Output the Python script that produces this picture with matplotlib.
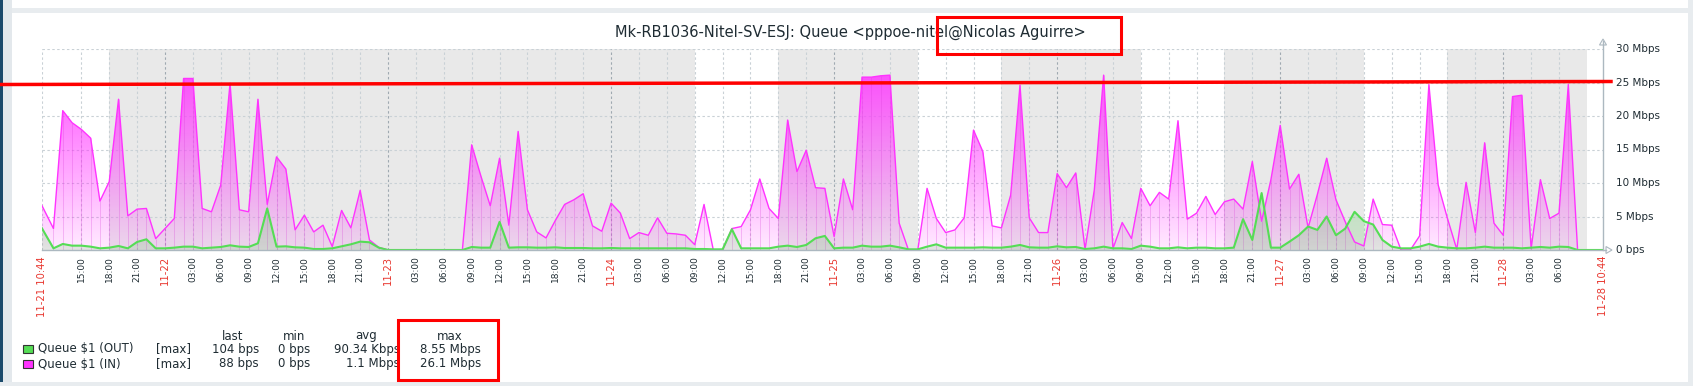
#!/usr/bin/env python3
"""Zabbix-style queue graph: IN/OUT traffic for one pppoe client over a week."""

import matplotlib

matplotlib.use("Agg")
import matplotlib.pyplot as plt
import numpy as np
import pandas as pd
from matplotlib.lines import Line2D
from matplotlib.patches import Polygon, Rectangle
from matplotlib.transforms import blended_transform_factory

W, H, DPI = 1693, 386, 100

TITLE = "Mk-RB1036-Nitel-SV-ESJ: Queue <pppoe-nitel@Nicolas Aguirre>"
START = pd.Timestamp("2025-11-21 10:44")
END = pd.Timestamp("2025-11-28 10:44")
FIRST_HOUR = pd.Timestamp("2025-11-21 12:00")

# value at the left edge of the graph (Mbps)
in_edge = 6.7
out_edge = 3.3

# hourly values from 11-21 12:00 to 11-28 10:00 (Mbps)
in_mbps = [
    3.2, 20.8, 19.0, 18.0, 16.7, 7.3, 10.2, 22.5, 5.1, 6.1, 6.2, 1.7,
    3.2, 4.7, 25.6, 25.6, 6.2, 5.7, 9.7, 24.9, 6.0, 5.7, 22.5, 6.8,
    13.9, 12.1, 3.0, 5.2, 2.7, 3.7, 0.5, 5.9, 3.3, 8.9, 1.5, 0.4,
    0, 0, 0, 0, 0, 0, 0, 0, 0, 15.7, 11.0, 6.6,
    13.7, 3.7, 17.7, 6.0, 2.7, 1.8, 4.4, 6.8, 7.5, 8.4, 3.6, 2.8,
    7.0, 5.5, 1.7, 2.6, 2.2, 4.8, 2.5, 2.4, 2.2, 0.8, 6.8, 0,
    0, 3.2, 3.5, 6.0, 10.6, 6.2, 4.7, 19.4, 11.7, 14.9, 9.3, 9.2,
    2.0, 10.6, 6.0, 25.8, 25.8, 26.0, 26.1, 4.0, 0, 0, 9.2, 4.7,
    2.6, 3.0, 4.8, 17.9, 14.7, 3.6, 3.3, 8.2, 24.6, 4.8, 2.6, 2.6,
    11.4, 9.3, 11.5, 0.1, 9.0, 26.1, 0.2, 4.1, 1.7, 9.2, 6.6, 8.6,
    7.6, 19.3, 4.6, 5.5, 8.0, 5.3, 7.2, 7.6, 6.1, 13.2, 4.3, 10.5,
    18.6, 9.1, 11.3, 3.3, 8.3, 13.7, 7.5, 4.2, 1.2, 0.6, 7.6, 3.8,
    3.7, 0, 0, 2.1, 24.7, 9.7, 4.7, 0.1, 10.1, 2.6, 16.0, 4.0,
    2.2, 22.9, 23.1, 0.2, 10.5, 4.7, 5.5, 24.7, 0, 0, 0,
]
out_mbps = [
    0.25, 0.9, 0.65, 0.65, 0.5, 0.25, 0.35, 0.6, 0.25, 1.2, 1.6, 0.25,
    0.25, 0.35, 0.5, 0.5, 0.25, 0.35, 0.45, 0.7, 0.5, 0.45, 1.0, 6.2,
    0.5, 0.55, 0.4, 0.35, 0.15, 0.15, 0.25, 0.55, 0.85, 1.25, 1.15, 0.35,
    0, 0, 0, 0, 0, 0, 0, 0, 0, 0.45, 0.35, 0.35,
    4.2, 0.35, 0.4, 0.4, 0.35, 0.35, 0.4, 0.3, 0.3, 0.3, 0.25, 0.25,
    0.3, 0.25, 0.25, 0.25, 0.25, 0.25, 0.25, 0.25, 0.25, 0.15, 0.15, 0.1,
    0.1, 3.1, 0.25, 0.25, 0.25, 0.25, 0.5, 0.65, 0.45, 0.75, 1.75, 2.1,
    0.25, 0.35, 0.35, 0.65, 0.5, 0.5, 0.65, 0.4, 0.1, 0.1, 0.5, 0.85,
    0.35, 0.35, 0.35, 0.35, 0.4, 0.35, 0.35, 0.5, 0.75, 0.4, 0.35, 0.35,
    0.55, 0.4, 0.45, 0.15, 0.25, 0.5, 0.25, 0.25, 0.15, 0.65, 0.5, 0.25,
    0.25, 0.4, 0.25, 0.35, 0.35, 0.25, 0.25, 0.35, 4.6, 1.5, 8.5, 0.35,
    0.35, 1.25, 2.2, 3.5, 3.0, 5.0, 2.2, 3.2, 5.7, 4.3, 3.8, 1.5,
    0.5, 0.25, 0.25, 0.5, 0.9, 0.5, 0.35, 0.25, 0.25, 0.35, 0.5, 0.35,
    0.35, 0.35, 0.25, 0.35, 0.45, 0.35, 0.5, 0.45, 0, 0, 0,
]

non_work = [
    ("2025-11-21 18:00", "2025-11-24 09:00"),
    ("2025-11-24 18:00", "2025-11-25 09:00"),
    ("2025-11-25 18:00", "2025-11-26 09:00"),
    ("2025-11-26 18:00", "2025-11-27 09:00"),
    ("2025-11-27 18:00", "2025-11-28 09:00"),
]

y_ticks = [0, 5, 10, 15, 20, 25, 30]
y_labels = ["0 bps", "5 Mbps", "10 Mbps", "15 Mbps", "20 Mbps", "25 Mbps", "30 Mbps"]

legend_names = ["Queue $1 (OUT)", "Queue $1 (IN)"]
legend_func = ["[max]", "[max]"]
legend_last = ["104 bps", "88 bps"]
legend_min = ["0 bps", "0 bps"]
legend_avg = ["90.34 Kbps", "1.1 Mbps"]
legend_max = ["8.55 Mbps", "26.1 Mbps"]

TXT = "#1f2c33"
RED_TXT = "#e8372f"
MAGENTA = "#ff33ff"
GREEN = "#55dd55"
GRID = "#c9d1d6"
GRID_DAY = "#9fa9b1"
AXIS = "#acb8c0"


def hours(ts):
    return (pd.Timestamp(ts) - START) / pd.Timedelta(hours=1)


def fx(x):
    return x / W


def fy(y):
    return 1 - y / H


def gradient_fill(ax, x, y, rgb, a_bot, a_top, z):
    poly = ax.fill_between(x, 0, y, color="none", lw=0)
    img = np.zeros((256, 1, 4))
    img[..., :3] = rgb
    img[..., 3] = np.linspace(a_bot, a_top, 256)[:, None]
    im = ax.imshow(img, extent=[0, hours(END), 0, 30], origin="lower",
                   aspect="auto", interpolation="bilinear", zorder=z)
    im.set_clip_path(poly.get_paths()[0], transform=ax.transData)


fig = plt.figure(figsize=(W / DPI, H / DPI), dpi=DPI)
fig.patch.set_facecolor("white")

# page frame around the graph
fig.add_artist(Rectangle((0, 0), fx(3), 1, transform=fig.transFigure, color="#1b4a6b", lw=0))
fig.add_artist(Rectangle((fx(3), 0), fx(9), 1, transform=fig.transFigure, color="#e3e8ec", lw=0))
fig.add_artist(Rectangle((fx(12), fy(13)), 1, fx(0) + 5 / H, transform=fig.transFigure, color="#e8ecef", lw=0))
fig.add_artist(Rectangle((fx(1688), 0), 1, 1, transform=fig.transFigure, color="#e8ecef", lw=0))
fig.add_artist(Rectangle((0, 0), 1, 4.5 / H, transform=fig.transFigure, color="#e8ecef", lw=0))

ax_l, ax_r, ax_t, ax_b = 41.7, 1603, 49, 250
ax = fig.add_axes([fx(ax_l), fy(ax_b), fx(ax_r - ax_l), (ax_b - ax_t) / H])
ax.set_facecolor("white")
for s in ax.spines.values():
    s.set_visible(False)
ax.set_xticks([])
ax.set_yticks([])

for a, b in non_work:
    ax.axvspan(hours(a), hours(b), color="#e9e9e9", lw=0, zorder=0)

# grid
for v in y_ticks[1:]:
    ax.axhline(v, color=GRID, lw=0.8, dashes=(2.2, 2.2), zorder=1)
tick_times = pd.date_range("2025-11-21 15:00", "2025-11-28 06:00", freq="3h")
ax.axvline(0, color=GRID, lw=0.8, dashes=(2.2, 2.2), zorder=1)
for t in tick_times:
    c = GRID_DAY if t.hour == 0 else GRID
    ax.axvline(hours(t), color=c, lw=0.8, dashes=(2.2, 2.2), zorder=1)

hourly = pd.date_range(FIRST_HOUR, periods=len(in_mbps), freq="h")
xh = np.array([hours(t) for t in hourly])
x = np.concatenate([[0], xh, [hours(END)]])
y_in = np.concatenate([[in_edge], in_mbps, [0]])
y_out = np.concatenate([[out_edge], out_mbps, [0]])

gradient_fill(ax, x, y_in, (1.0, 0.2, 1.0), 0.10, 0.95, 2)
ax.vlines(xh, 0, in_mbps, color=(0.85, 0.25, 0.85), alpha=0.28, lw=0.7, zorder=2.5)
gradient_fill(ax, x, y_out, (0.35, 0.78, 0.35), 0.18, 0.55, 3)
ax.plot(x, y_in, color=MAGENTA, lw=1.0, zorder=4)
ax.plot(x, y_out, color=GREEN, lw=1.5, zorder=5)

ax.set_xlim(0, hours(END))
ax.set_ylim(0, 30)

# axes lines with arrows
fig.add_artist(Line2D([fx(ax_l), fx(1606)], [fy(ax_b), fy(ax_b)], color=AXIS, lw=1.0))
fig.add_artist(Line2D([fx(ax_r), fx(ax_r)], [fy(ax_b), fy(41)], color=AXIS, lw=1.0))
fig.add_artist(Polygon([[fx(1606), fy(246.5)], [fx(1612), fy(ax_b)], [fx(1606), fy(253.5)]],
                       closed=True, transform=fig.transFigure, fc="white", ec=AXIS, lw=0.8))
fig.add_artist(Polygon([[fx(1599.5), fy(45)], [fx(ax_r), fy(39)], [fx(1606.5), fy(45)]],
                       closed=True, transform=fig.transFigure, fc="white", ec=AXIS, lw=0.8))

# y labels on the right
ytr = blended_transform_factory(ax.transAxes, ax.transData)
for v, lab in zip(y_ticks, y_labels):
    ax.text((1616 - ax_l) / (ax_r - ax_l), v, lab, transform=ytr, ha="left", va="center",
            fontsize=7.5, color=TXT)

# x labels
xtr = blended_transform_factory(ax.transData, ax.transAxes)
lab_y = -6 / (ax_b - ax_t)
ax.text(0, lab_y, START.strftime("%m-%d %H:%M"), transform=xtr, rotation=90,
        ha="center", va="top", fontsize=7.2, color=RED_TXT)
ax.text(hours(END), lab_y, END.strftime("%m-%d %H:%M"), transform=xtr, rotation=90,
        ha="center", va="top", fontsize=7.2, color=RED_TXT)
for t in tick_times:
    if t.hour == 0:
        ax.text(hours(t), lab_y, t.strftime("%m-%d"), transform=xtr, rotation=90,
                ha="center", va="top", fontsize=7.2, color=RED_TXT)
    else:
        ax.text(hours(t), lab_y, t.strftime("%H:%M"), transform=xtr, rotation=90,
                ha="center", va="top", fontsize=6.5, color=TXT)

fig.text(fx(850), fy(32), TITLE, ha="center", va="center", fontsize=10.5, color=TXT)

# legend table
fs = 8.5
for txt, cx in zip(["last", "min", "avg", "max"], [233, 294, 366, 450]):
    fig.text(fx(cx), fy(336), txt, ha="center", va="center", fontsize=fs, color=TXT)
for i, (colr, row_y) in enumerate(zip([GREEN, MAGENTA], [349, 364])):
    fig.add_artist(Rectangle((fx(23), fy(row_y + 4)), fx(9.5), 8 / H, transform=fig.transFigure,
                             fc=colr, ec="#333333", lw=0.8))
    fig.text(fx(38), fy(row_y), legend_names[i], ha="left", va="center", fontsize=fs, color=TXT)
    fig.text(fx(156), fy(row_y), legend_func[i], ha="left", va="center", fontsize=fs, color=TXT)
    fig.text(fx(259), fy(row_y), legend_last[i], ha="right", va="center", fontsize=fs, color=TXT)
    fig.text(fx(310), fy(row_y), legend_min[i], ha="right", va="center", fontsize=fs, color=TXT)
    fig.text(fx(400), fy(row_y), legend_avg[i], ha="right", va="center", fontsize=fs, color=TXT)
    fig.text(fx(481), fy(row_y), legend_max[i], ha="right", va="center", fontsize=fs, color=TXT)

# red markup drawn on the screenshot
fig.add_artist(Line2D([0, fx(1611)], [fy(84.5), fy(81.5)], color="#ff0000", lw=2.5, zorder=10))
fig.add_artist(Rectangle((fx(937), fy(54)), fx(1121 - 937), 37 / H, transform=fig.transFigure,
                         fill=False, ec="#ff0000", lw=2.2, zorder=10))
fig.add_artist(Rectangle((fx(397.5), fy(380)), fx(498 - 397.5), 60 / H, transform=fig.transFigure,
                         fill=False, ec="#ff0000", lw=2.2, zorder=10))

fig.savefig("out.png", dpi=DPI)
